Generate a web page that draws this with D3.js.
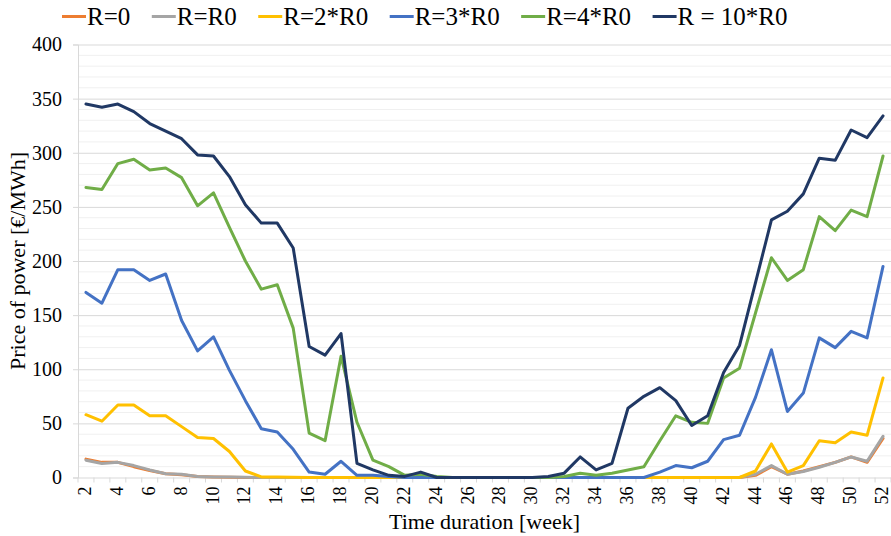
<!DOCTYPE html>
<html>
<head>
<meta charset="utf-8">
<script src="https://cdn.jsdelivr.net/npm/d3@7"></script>
<style>
  html, body { margin: 0; padding: 0; background: #fff; }
  svg { display: block; }
  svg text { font-family: "Liberation Serif", "Times New Roman", serif !important; }
</style>
</head>
<body>
<svg id="chart" width="891" height="536"></svg>
<script>
// ---------- data ----------
const weeks = [2,3,4,5,6,7,8,9,10,11,12,13,14,15,16,17,18,19,20,21,22,23,24,25,26,27,
  28,29,30,31,32,33,34,35,36,37,38,39,40,41,42,43,44,45,46,47,48,49,50,51,52];
const weekLabels = [2,4,6,8,10,12,14,16,18,20,22,24,26,28,30,32,34,36,38,40,42,44,46,48,50,52];
const yTicks = [0,50,100,150,200,250,300,350,400];
const seriesNames = ["R=0", "R=R0", "R=2*R0", "R=3*R0", "R=4*R0", "R = 10*R0"];
const seriesColors = ["#ED7D31", "#A5A5A5", "#FFC000", "#4472C4", "#70AD47", "#203864"];

const r0 = [17,14,14,10,6.5,3.5,2.5,1,0.5,0.3,0,0,0,0,0,0,0,0,0,0,0,0,0,0,0,0,
  0,0,0,0,0,0,0,0,0,0,0,0,0,0,0,0,2,10,3,6,10,14,19,14,36];
const rR0 = [16,13,14,11,7,3.5,3,1,0.5,0.5,0.3,0,0,0,0,0,0,0,0,0,0,0,0,0,0,0,
  0,0,0,0,0,0,0,0,0,0,0,0,0,0,0,0,3,11,3,5.5,9.5,14,19,15,38];
const r2R0 = [58,52,67,67,57,57,47,37,36,24,6,0.5,0.5,0.3,0,0,0,0,0,0,0,0,0,0,0,0,
  0,0,0,0,0,0,0,0,0,0,0,0,0,0,0,0,6,31,5,11,34,32,42,39,92];
const r3R0 = [171,161,192,192,182,188,145,117,130,99,71,45,42,26,5,3,15,2,2,1,0,0,0,0,0,0,
  0,0,0,0,0,0,0,0,0,0,5,11,9,15,35,39,74,118,61,78,129,120,135,129,195];
const r4R0 = [268,266,290,294,284,286,277,251,263,231,200,174,178,138,41,34,112,51,16,10,2,3,1,0,0,0,
  0,0,0,0,1,4,2,4,7,10,34,57,51,50,92,101,152,203,182,192,241,228,247,241,297];
const r10R0 = [345,342,345,338,327,320,313,298,297,278,252,235,235,212,121,113,133,13,7,2,1,5,0,0,0,0,
  0,0,0,1,4,19,7,13,64,75,83,71,48,57,97,122,180,238,246,262,295,293,321,314,334];
const seriesValues = [r0, rR0, r2R0, r3R0, r4R0, r10R0];

// ---------- layout ----------
const FONT = "'Liberation Serif', 'Times New Roman', serif";
const plotLeft = 78, plotRight = 891, plotTop = 44.5, plotBottom = 477.5;
const svg = d3.select("#chart");

const xBand = d3.scaleBand().domain(weeks).range([plotLeft, plotRight]);
const x = d3.scalePoint().domain(weeks).range([plotLeft, plotRight]).padding(0.5);
const y = d3.scaleLinear().domain([0, 400]).range([plotBottom, plotTop]);

// minor gridlines
const minorVals = d3.range(0, 401, 10).filter(v => v % 50 !== 0);
svg.append("g").selectAll("line").data(minorVals).join("line")
  .attr("x1", plotLeft).attr("x2", plotRight)
  .attr("y1", d => y(d)).attr("y2", d => y(d))
  .attr("stroke", "#F0F0F0").attr("stroke-width", 1);

// y axis with major gridlines
const yAxis = d3.axisLeft(y).tickValues(yTicks).tickSize(5).tickPadding(11);
const gy = svg.append("g").attr("transform", `translate(${plotLeft},0)`).call(yAxis)
  .attr("font-family", FONT);
gy.select(".domain").attr("stroke", "#D9D9D9");
gy.selectAll(".tick line").attr("stroke", "#D9D9D9");
gy.selectAll(".tick").append("line")
  .attr("x1", 0).attr("x2", plotRight - plotLeft)
  .attr("stroke", "#D9D9D9").attr("stroke-width", 1);
gy.selectAll(".tick text").attr("font-size", 20).attr("fill", "#000")
  .style("font-family", FONT);

// x tick marks between categories
const boundaries = weeks.map(w => xBand(w)).concat([xBand(weeks[weeks.length - 1]) + xBand.bandwidth()]);
svg.append("g").selectAll("line").data(boundaries).join("line")
  .attr("x1", d => d).attr("x2", d => d)
  .attr("y1", plotBottom).attr("y2", plotBottom + 5)
  .attr("stroke", "#D9D9D9");

// x labels (rotated)
const xAxis = d3.axisBottom(x).tickValues(weekLabels).tickSize(0);
const gx = svg.append("g").attr("transform", `translate(0,${plotBottom})`).call(xAxis)
  .attr("font-family", FONT);
gx.select(".domain").remove();
gx.selectAll(".tick text")
  .attr("font-size", 18).attr("fill", "#000").style("font-family", FONT)
  .attr("text-anchor", "end")
  .attr("transform", "rotate(-90)")
  .attr("x", -9).attr("y", 0).attr("dy", "0.25em");

// lines
const line = d3.line().x((d, i) => x(weeks[i])).y(d => y(d));
seriesValues.forEach((vals, k) => {
  svg.append("path").datum(vals)
    .attr("d", line)
    .attr("fill", "none")
    .attr("stroke", seriesColors[k])
    .attr("stroke-width", 3)
    .attr("stroke-linejoin", "round")
    .attr("stroke-linecap", "round");
});

// axis titles
svg.append("text")
  .attr("x", (plotLeft + plotRight) / 2).attr("y", 529)
  .attr("text-anchor", "middle").attr("font-size", 22).attr("fill", "#000")
  .style("font-family", FONT)
  .text("Time duration [week]");
svg.append("text")
  .attr("transform", `translate(25,${(plotTop + plotBottom) / 2}) rotate(-90)`)
  .attr("text-anchor", "middle").attr("font-size", 22).attr("fill", "#000")
  .style("font-family", FONT)
  .text("Price of power [€/MWh]");

// legend
const legend = svg.append("g");
let lx = 62;
seriesNames.forEach((name, k) => {
  const g = legend.append("g");
  g.append("line").attr("x1", lx).attr("x2", lx + 24)
    .attr("y1", 16.5).attr("y2", 16.5)
    .attr("stroke", seriesColors[k]).attr("stroke-width", 3);
  const t = g.append("text").attr("x", lx + 25).attr("y", 16.5).attr("dy", "0.35em")
    .attr("font-size", 25).attr("fill", "#000").style("font-family", FONT).text(name);
  lx += 25 + t.node().getComputedTextLength() + 21.5;
});
</script>
</body>
</html>
